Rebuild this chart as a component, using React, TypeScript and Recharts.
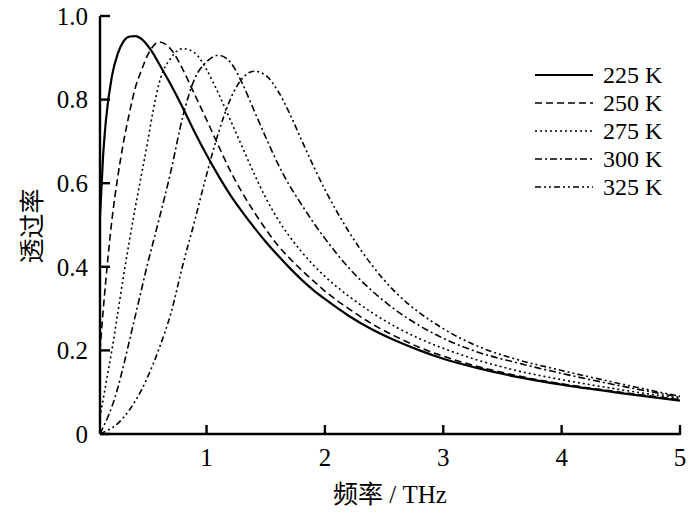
import { LineChart, Line, XAxis, YAxis, Legend, Label } from "recharts"

// frequency (THz) and transmission values
const freq = [
  0.1, 0.125, 0.15, 0.2, 0.25, 0.3, 0.35, 0.4, 0.45, 0.5, 0.55, 0.6, 0.7, 0.8, 0.9, 1.0, 1.1, 1.2, 1.3, 1.4, 1.5,
  1.6, 1.7, 1.8, 1.9, 2.0, 2.2, 2.4, 2.6, 2.8, 3.0, 3.3, 3.6, 4.0, 4.5, 5.0,
]

const t225 = [
  0.52, 0.66, 0.75, 0.855, 0.91, 0.94, 0.951, 0.952, 0.945, 0.93, 0.91, 0.885, 0.835, 0.78, 0.722, 0.668, 0.618,
  0.572, 0.532, 0.495, 0.46, 0.428, 0.398, 0.37, 0.345, 0.323, 0.283, 0.25, 0.223, 0.2, 0.18, 0.157, 0.138, 0.118,
  0.098, 0.08,
]

const t250 = [
  0.2, 0.29, 0.37, 0.51, 0.615, 0.7, 0.77, 0.83, 0.87, 0.905, 0.928, 0.938, 0.92, 0.872, 0.812, 0.752, 0.69, 0.63,
  0.578, 0.532, 0.49, 0.452, 0.421, 0.393, 0.367, 0.342, 0.3, 0.263, 0.233, 0.207, 0.186, 0.161, 0.141, 0.12, 0.1,
  0.082,
]

const t275 = [
  0.04, 0.08, 0.12, 0.2, 0.29, 0.38, 0.465, 0.545, 0.62, 0.695, 0.775, 0.84, 0.9, 0.922, 0.912, 0.872, 0.815, 0.752,
  0.688, 0.624, 0.565, 0.515, 0.473, 0.437, 0.405, 0.377, 0.33, 0.29, 0.256, 0.228, 0.205, 0.176, 0.153, 0.13, 0.106,
  0.085,
]

const t300 = [
  0.0, 0.015, 0.03, 0.065, 0.11, 0.165, 0.225, 0.285, 0.345, 0.405, 0.46, 0.515, 0.63, 0.76, 0.85, 0.89, 0.906, 0.89,
  0.84, 0.775, 0.71, 0.648, 0.595, 0.55, 0.507, 0.468, 0.398, 0.342, 0.296, 0.259, 0.229, 0.195, 0.172, 0.145, 0.115,
  0.088,
]

const t325 = [
  0.0, 0.003, 0.007, 0.014, 0.025, 0.04, 0.058, 0.08, 0.105, 0.135, 0.168, 0.205, 0.29, 0.405, 0.51, 0.62, 0.72, 0.8,
  0.85, 0.868, 0.858, 0.822, 0.768, 0.705, 0.643, 0.585, 0.485, 0.403, 0.338, 0.29, 0.252, 0.209, 0.18, 0.152, 0.12,
  0.09,
]

const xTicks = [1, 2, 3, 4, 5]
const yTicks = [0, 0.2, 0.4, 0.6, 0.8, 1.0]

const series = [
  { key: "t225", name: "225 K", dash: undefined, width: 2.2 },
  { key: "t250", name: "250 K", dash: "7 4", width: 1.6 },
  { key: "t275", name: "275 K", dash: "2 3", width: 1.6 },
  { key: "t300", name: "300 K", dash: "7 3 2 3", width: 1.6 },
  { key: "t325", name: "325 K", dash: "6 3 2 3 2 3", width: 1.6 },
]

const data = freq.map((f, i) => ({
  f,
  t225: t225[i],
  t250: t250[i],
  t275: t275[i],
  t300: t300[i],
  t325: t325[i],
}))

const FONT = '"Liberation Serif", "Times New Roman", "Noto Sans CJK SC", serif'
const TICK = "#000"

// ticks point into the plot, so draw line + label ourselves
function XTick(props: any) {
  const x = Number(props.x)
  const y = Number(props.y)
  return (
    <g>
      <rect x={x - 1.2} y={y - 23} width={2.4} height={10} fill={TICK} />
      <text x={x} y={y} dy="0.71em" textAnchor="middle" fontSize={25} fontFamily={FONT} fill="#000">
        {props.payload.value}
      </text>
    </g>
  )
}

function YTick(props: any) {
  const x = Number(props.x)
  const y = Number(props.y)
  const v = props.payload.value as number
  return (
    <g>
      <rect x={x + 12} y={y - 1.2} width={10} height={2.4} fill={TICK} />
      <text x={x} y={y} dy="0.355em" textAnchor="end" fontSize={25} fontFamily={FONT} fill="#000">
        {v === 0 ? "0" : v.toFixed(1)}
      </text>
    </g>
  )
}

function LegendBox() {
  return (
    <div style={{ fontFamily: FONT, fontSize: 24, color: "#000" }}>
      {series.map((s) => (
        <div key={s.key} style={{ display: "flex", alignItems: "center", height: 28 }}>
          <svg width={58} height={28}>
            <line x1={0} y1={14} x2={58} y2={14} stroke="#000" strokeWidth={s.width} strokeDasharray={s.dash} />
          </svg>
          <span style={{ marginLeft: 10, lineHeight: "28px" }}>{s.name}</span>
        </div>
      ))}
    </div>
  )
}

export default function App() {
  return (
    <div style={{ position: "absolute", left: 0, top: 0, background: "#fff" }}>
      <LineChart width={700} height={513} data={data} margin={{ top: 16, right: 20, bottom: 0, left: 0 }}>
        <XAxis
          dataKey="f"
          type="number"
          domain={[0.1, 5]}
          ticks={xTicks}
          allowDataOverflow
          height={79}
          axisLine={{ stroke: "#000", strokeWidth: 2.4 }}
          tickLine={false}
          tickSize={0}
          tickMargin={14}
          tick={XTick}
        >
          <Label
            content={() => (
              <text x={390} y={503} textAnchor="middle" fontSize={25} fontFamily={FONT} fill="#000">
                频率 / THz
              </text>
            )}
          />
        </XAxis>
        <YAxis
          type="number"
          domain={[0, 1]}
          ticks={yTicks}
          width={100}
          interval={0}
          axisLine={{ stroke: "#000", strokeWidth: 2.4 }}
          tickLine={false}
          tickSize={0}
          tickMargin={12}
          tick={YTick}
        >
          <Label
            content={() => (
              <text
                x={32}
                y={226}
                transform="rotate(-90 32 226)"
                textAnchor="middle"
                dominantBaseline="central"
                fontSize={25}
                fontFamily={FONT}
                fill="#000"
              >
                透过率
              </text>
            )}
          />
        </YAxis>
        <Legend
          layout="horizontal"
          verticalAlign="middle"
          content={() => <LegendBox />}
          wrapperStyle={{ position: "absolute", left: 535, top: 61, width: 165 }}
        />
        {series.map((s) => (
          <Line
            key={s.key}
            dataKey={s.key}
            name={s.name}
            type="monotone"
            stroke="#000"
            strokeWidth={s.width}
            strokeDasharray={s.dash}
            dot={false}
            activeDot={false}
            isAnimationActive={false}
          />
        ))}
      </LineChart>
    </div>
  )
}
